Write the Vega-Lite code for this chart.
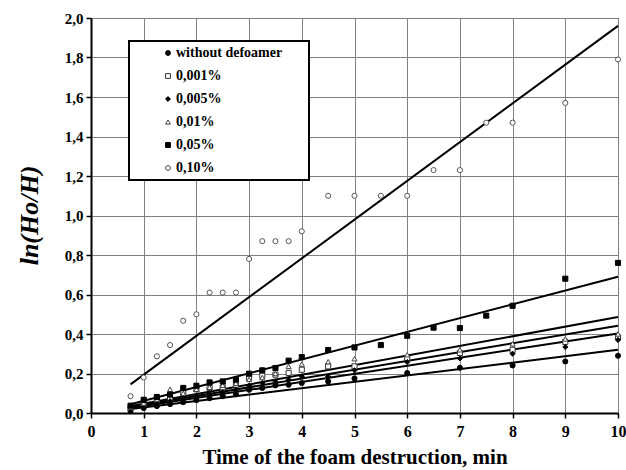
{
  "$schema": "https://vega.github.io/schema/vega-lite/v6.json",
  "width": 527,
  "height": 395,
  "autosize": {"type": "none"},
  "padding": {"left": 91, "top": 18, "right": 8, "bottom": 57},
  "background": "white",
  "config": {
    "font": "Liberation Serif",
    "view": {"stroke": "#888888", "strokeWidth": 1},
    "legend": {"strokeWidth": 2, "labelFont": "Liberation Serif", "labelFontWeight": "bold", "titleFont": "Liberation Serif"},
    "axis": {"labelFont": "Liberation Serif", "titleFont": "Liberation Serif"}
  },
  "datasets": {
    "fits": [
      {"s": "0,10%", "t": 0.75, "v": 0.145}, {"s": "0,10%", "t": 10, "v": 1.96},
      {"s": "0,05%", "t": 0.75, "v": 0.044}, {"s": "0,05%", "t": 10, "v": 0.69},
      {"s": "0,01%", "t": 0.75, "v": 0.035}, {"s": "0,01%", "t": 10, "v": 0.486},
      {"s": "0,001%", "t": 0.75, "v": 0.03}, {"s": "0,001%", "t": 10, "v": 0.442},
      {"s": "0,005%", "t": 0.75, "v": 0.025}, {"s": "0,005%", "t": 10, "v": 0.403},
      {"s": "without defoamer", "t": 0.75, "v": 0.02}, {"s": "without defoamer", "t": 10, "v": 0.32}
    ],
    "pts": [
      {"s": "without defoamer", "t": 0.75, "v": 0.01}, {"s": "without defoamer", "t": 1, "v": 0.025}, {"s": "without defoamer", "t": 1.25, "v": 0.035}, {"s": "without defoamer", "t": 1.5, "v": 0.045}, {"s": "without defoamer", "t": 1.75, "v": 0.055}, {"s": "without defoamer", "t": 2, "v": 0.065}, {"s": "without defoamer", "t": 2.25, "v": 0.075}, {"s": "without defoamer", "t": 2.5, "v": 0.085}, {"s": "without defoamer", "t": 2.75, "v": 0.095}, {"s": "without defoamer", "t": 3, "v": 0.118}, {"s": "without defoamer", "t": 3.25, "v": 0.127}, {"s": "without defoamer", "t": 3.5, "v": 0.14}, {"s": "without defoamer", "t": 3.75, "v": 0.143}, {"s": "without defoamer", "t": 4, "v": 0.152}, {"s": "without defoamer", "t": 4.5, "v": 0.16}, {"s": "without defoamer", "t": 5, "v": 0.175}, {"s": "without defoamer", "t": 6, "v": 0.2025}, {"s": "without defoamer", "t": 7, "v": 0.229}, {"s": "without defoamer", "t": 8, "v": 0.241}, {"s": "without defoamer", "t": 9, "v": 0.261}, {"s": "without defoamer", "t": 10, "v": 0.29},
      {"s": "0,001%", "t": 0.75, "v": 0.025}, {"s": "0,001%", "t": 1, "v": 0.045}, {"s": "0,001%", "t": 1.25, "v": 0.06}, {"s": "0,001%", "t": 1.5, "v": 0.075}, {"s": "0,001%", "t": 1.75, "v": 0.1}, {"s": "0,001%", "t": 2, "v": 0.12}, {"s": "0,001%", "t": 2.25, "v": 0.127}, {"s": "0,001%", "t": 2.5, "v": 0.13}, {"s": "0,001%", "t": 2.75, "v": 0.143}, {"s": "0,001%", "t": 3, "v": 0.177}, {"s": "0,001%", "t": 3.25, "v": 0.189}, {"s": "0,001%", "t": 3.5, "v": 0.194}, {"s": "0,001%", "t": 3.75, "v": 0.203}, {"s": "0,001%", "t": 4, "v": 0.219}, {"s": "0,001%", "t": 4.5, "v": 0.236}, {"s": "0,001%", "t": 5, "v": 0.236}, {"s": "0,001%", "t": 6, "v": 0.278}, {"s": "0,001%", "t": 7, "v": 0.304}, {"s": "0,001%", "t": 8, "v": 0.32}, {"s": "0,001%", "t": 9, "v": 0.36}, {"s": "0,001%", "t": 10, "v": 0.383},
      {"s": "0,005%", "t": 0.75, "v": 0.02}, {"s": "0,005%", "t": 1, "v": 0.035}, {"s": "0,005%", "t": 1.25, "v": 0.05}, {"s": "0,005%", "t": 1.5, "v": 0.06}, {"s": "0,005%", "t": 1.75, "v": 0.075}, {"s": "0,005%", "t": 2, "v": 0.085}, {"s": "0,005%", "t": 2.25, "v": 0.095}, {"s": "0,005%", "t": 2.5, "v": 0.105}, {"s": "0,005%", "t": 2.75, "v": 0.118}, {"s": "0,005%", "t": 3, "v": 0.138}, {"s": "0,005%", "t": 3.25, "v": 0.152}, {"s": "0,005%", "t": 3.5, "v": 0.16}, {"s": "0,005%", "t": 3.75, "v": 0.169}, {"s": "0,005%", "t": 4, "v": 0.185}, {"s": "0,005%", "t": 4.5, "v": 0.185}, {"s": "0,005%", "t": 5, "v": 0.216}, {"s": "0,005%", "t": 6, "v": 0.258}, {"s": "0,005%", "t": 7, "v": 0.276}, {"s": "0,005%", "t": 8, "v": 0.3}, {"s": "0,005%", "t": 9, "v": 0.334}, {"s": "0,005%", "t": 10, "v": 0.37},
      {"s": "0,01%", "t": 0.75, "v": 0.03}, {"s": "0,01%", "t": 1, "v": 0.05}, {"s": "0,01%", "t": 1.25, "v": 0.07}, {"s": "0,01%", "t": 1.5, "v": 0.12}, {"s": "0,01%", "t": 1.75, "v": 0.1}, {"s": "0,01%", "t": 2, "v": 0.12}, {"s": "0,01%", "t": 2.25, "v": 0.13}, {"s": "0,01%", "t": 2.5, "v": 0.14}, {"s": "0,01%", "t": 2.75, "v": 0.15}, {"s": "0,01%", "t": 3, "v": 0.17}, {"s": "0,01%", "t": 3.25, "v": 0.18}, {"s": "0,01%", "t": 3.5, "v": 0.2}, {"s": "0,01%", "t": 3.75, "v": 0.236}, {"s": "0,01%", "t": 4, "v": 0.248}, {"s": "0,01%", "t": 4.5, "v": 0.26}, {"s": "0,01%", "t": 5, "v": 0.275}, {"s": "0,01%", "t": 6, "v": 0.295}, {"s": "0,01%", "t": 7, "v": 0.32}, {"s": "0,01%", "t": 8, "v": 0.35}, {"s": "0,01%", "t": 9, "v": 0.375}, {"s": "0,01%", "t": 10, "v": 0.4},
      {"s": "0,05%", "t": 0.75, "v": 0.037}, {"s": "0,05%", "t": 1, "v": 0.067}, {"s": "0,05%", "t": 1.25, "v": 0.081}, {"s": "0,05%", "t": 1.5, "v": 0.093}, {"s": "0,05%", "t": 1.75, "v": 0.127}, {"s": "0,05%", "t": 2, "v": 0.138}, {"s": "0,05%", "t": 2.25, "v": 0.155}, {"s": "0,05%", "t": 2.5, "v": 0.16}, {"s": "0,05%", "t": 2.75, "v": 0.169}, {"s": "0,05%", "t": 3, "v": 0.199}, {"s": "0,05%", "t": 3.25, "v": 0.216}, {"s": "0,05%", "t": 3.5, "v": 0.228}, {"s": "0,05%", "t": 3.75, "v": 0.265}, {"s": "0,05%", "t": 4, "v": 0.283}, {"s": "0,05%", "t": 4.5, "v": 0.319}, {"s": "0,05%", "t": 5, "v": 0.332}, {"s": "0,05%", "t": 5.5, "v": 0.344}, {"s": "0,05%", "t": 6, "v": 0.391}, {"s": "0,05%", "t": 6.5, "v": 0.432}, {"s": "0,05%", "t": 7, "v": 0.43}, {"s": "0,05%", "t": 7.5, "v": 0.493}, {"s": "0,05%", "t": 8, "v": 0.543}, {"s": "0,05%", "t": 9, "v": 0.68}, {"s": "0,05%", "t": 10, "v": 0.76},
      {"s": "0,10%", "t": 0.75, "v": 0.085}, {"s": "0,10%", "t": 1, "v": 0.18}, {"s": "0,10%", "t": 1.25, "v": 0.287}, {"s": "0,10%", "t": 1.5, "v": 0.344}, {"s": "0,10%", "t": 1.75, "v": 0.467}, {"s": "0,10%", "t": 2, "v": 0.5}, {"s": "0,10%", "t": 2.25, "v": 0.61}, {"s": "0,10%", "t": 2.5, "v": 0.61}, {"s": "0,10%", "t": 2.75, "v": 0.61}, {"s": "0,10%", "t": 3, "v": 0.78}, {"s": "0,10%", "t": 3.25, "v": 0.87}, {"s": "0,10%", "t": 3.5, "v": 0.87}, {"s": "0,10%", "t": 3.75, "v": 0.87}, {"s": "0,10%", "t": 4, "v": 0.92}, {"s": "0,10%", "t": 4.5, "v": 1.1}, {"s": "0,10%", "t": 5, "v": 1.1}, {"s": "0,10%", "t": 5.5, "v": 1.1}, {"s": "0,10%", "t": 6, "v": 1.1}, {"s": "0,10%", "t": 6.5, "v": 1.23}, {"s": "0,10%", "t": 7, "v": 1.23}, {"s": "0,10%", "t": 7.5, "v": 1.47}, {"s": "0,10%", "t": 8, "v": 1.47}, {"s": "0,10%", "t": 9, "v": 1.57}, {"s": "0,10%", "t": 10, "v": 1.79}
    ]
  },
  "encoding": {
    "x": {
      "field": "t", "type": "quantitative",
      "scale": {"domain": [0, 10], "nice": false, "zero": false},
      "axis": {
        "title": "Time of the foam destruction, min",
        "values": [0, 1, 2, 3, 4, 5, 6, 7, 8, 9, 10],
        "format": "d",
        "labelFont": "Liberation Serif", "labelFontWeight": "bold", "labelFontSize": 16, "labelColor": "black",
        "labelPadding": 5, "labelFlush": false, "labelOverlap": false,
        "tickSize": 5, "tickColor": "black", "tickWidth": 1.5,
        "domainColor": "black", "domainWidth": 2,
        "grid": true, "gridColor": "#808080", "gridWidth": 1,
        "titleFont": "Liberation Serif", "titleFontWeight": "bold", "titleFontSize": 21, "titleColor": "black",
        "titleBaseline": "alphabetic", "titleY": 50
      }
    },
    "y": {
      "field": "v", "type": "quantitative",
      "scale": {"domain": [0, 2], "nice": false},
      "axis": {
        "title": "ln(Ho/H)",
        "values": [0, 0.2, 0.4, 0.6, 0.8, 1, 1.2, 1.4, 1.6, 1.8, 2],
        "labelExpr": "replace(format(datum.value, '.1f'), '.', ',')",
        "labelFont": "Liberation Serif", "labelFontWeight": "bold", "labelFontSize": 15, "labelColor": "black",
        "labelPadding": 3, "labelFlush": false, "labelOverlap": false,
        "tickSize": 5, "tickColor": "black", "tickWidth": 1.5,
        "domainColor": "black", "domainWidth": 2,
        "grid": true, "gridColor": "#808080", "gridWidth": 1,
        "titleFont": "Liberation Serif", "titleFontWeight": "bold", "titleFontStyle": "italic", "titleFontSize": 26, "titleColor": "black",
        "titleX": -62, "titleY": 197, "titleAngle": -90, "titleAlign": "center", "titleBaseline": "middle"
      }
    }
  },
  "layer": [
    {
      "data": {"name": "fits"},
      "mark": {"type": "line", "color": "black", "strokeWidth": 2},
      "encoding": {"detail": {"field": "s", "type": "nominal"}}
    },
    {
      "data": {"name": "pts"},
      "mark": {"type": "point", "filled": true, "size": 26, "strokeWidth": 1, "opacity": 1},
      "encoding": {
        "shape": {
          "field": "s", "type": "nominal", "title": "\u00a0",
          "scale": {
            "domain": ["without defoamer", "0,001%", "0,005%", "0,01%", "0,05%", "0,10%"],
            "range": ["circle", "square", "diamond", "triangle-up", "square", "circle"]
          },
          "legend": {
            "orient": "none", "legendX": 38, "legendY": 23,
            "direction": "vertical",
            "fillColor": "white", "strokeColor": "black",
            "padding": 5,
            "titleOrient": "right", "titlePadding": 22, "titleFontSize": 14,
            "symbolOffset": 27, "symbolSize": 24, "symbolStrokeWidth": 1,
            "labelFont": "Liberation Serif", "labelFontWeight": "bold", "labelFontSize": 14, "labelColor": "black",
            "labelOffset": 1, "rowPadding": 9, "labelLimit": 300
          }
        },
        "fill": {
          "field": "s", "type": "nominal", "title": "\u00a0",
          "scale": {
            "domain": ["without defoamer", "0,001%", "0,005%", "0,01%", "0,05%", "0,10%"],
            "range": ["black", "white", "black", "white", "black", "white"]
          }
        },
        "stroke": {
          "field": "s", "type": "nominal", "title": "\u00a0",
          "scale": {
            "domain": ["without defoamer", "0,001%", "0,005%", "0,01%", "0,05%", "0,10%"],
            "range": ["black", "#333333", "black", "#444444", "black", "#555555"]
          }
        }
      }
    }
  ]
}
